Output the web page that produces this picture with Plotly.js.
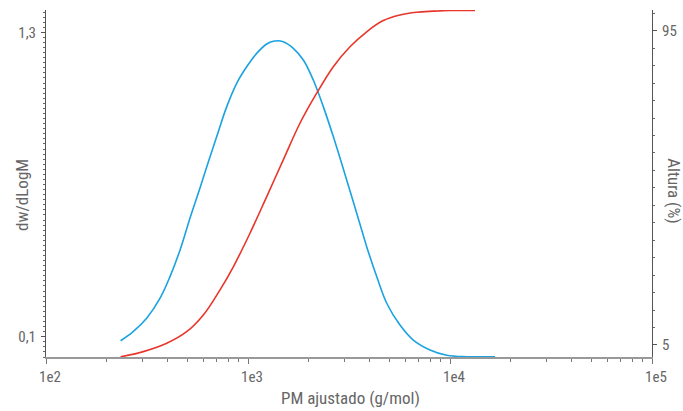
<!DOCTYPE html>
<html><head><meta charset="utf-8">
<script src="https://cdn.plot.ly/plotly-3.0.1.min.js"></script>
<style>html,body{margin:0;padding:0;background:#fff}#chart{width:683px;height:411px}</style>
</head><body><div id="chart"></div>
<script>
// Blue: dw/dLogM vs adjusted molar mass
const blueM = [234,270,315,367,411,461,516,578,625,700,785,879,985,1104,1238,1334,1495,1676,1879,2105,2359,2644,3080,3453,3869,4337,4861,5655,6580,7962,9632,12095,16705];
const blueW = [0.084,0.120,0.173,0.252,0.337,0.442,0.567,0.685,0.770,0.889,1.007,1.099,1.164,1.217,1.254,1.265,1.263,1.237,1.191,1.112,1.007,0.889,0.718,0.587,0.455,0.337,0.232,0.146,0.087,0.048,0.027,0.021,0.021];
// Red: cumulative height (%)
const redM = [234,303,396,497,601,727,846,1023,1238,1495,1808,2188,2644,3199,3869,4675,5655,6842,8265,10000,13300];
const redH = [1.6,3.1,5.5,8.8,13.6,20.8,27.4,37.0,47.5,58.0,68.5,77.1,84.7,90.4,94.7,97.9,99.5,100.3,100.6,100.8,100.8];
// Tick labels
const xTickVals = [100,1000,10000,100000];
const xTickText = ['1e2','1e3','1e4','1e5'];
const yTickVals = [0.1,1.3];
const y2TickVals = [5,95];

const font = "'Liberation Sans Narrow','Arial Narrow','Roboto Condensed','Roboto',sans-serif";
const grey = '#666';

const traces = [
  {x: blueM, y: blueW, type:'scatter', mode:'lines', line:{color:'#1aa3e0', width:1.6, shape:'spline', smoothing:1}, yaxis:'y', hoverinfo:'skip'},
  {x: redM, y: redH, type:'scatter', mode:'lines', line:{color:'#e8362a', width:1.6, shape:'spline', smoothing:1}, yaxis:'y2', hoverinfo:'skip'}
];

const layout = {
  width:683, height:411,
  margin:{l:46, r:31, t:10, b:54},
  paper_bgcolor:'#fff', plot_bgcolor:'#fff',
  showlegend:false,
  separators:',.',
  font:{family:font, size:15, color:grey},
  xaxis:{type:'log', range:[2,5], tickmode:'array', tickvals:xTickVals, ticktext:xTickText,
    showgrid:false, zeroline:false, showline:true, linecolor:'#999', linewidth:2,
    ticks:'outside', ticklen:5, tickcolor:'#777', tickwidth:1, ticklabelshift:4,
    tickfont:{family:font, size:15, color:grey},
    minor:{ticks:'outside', ticklen:3, tickcolor:'#777', dtick:'D1', showgrid:false}},
  yaxis:{range:[0.02,1.388], tickmode:'array', tickvals:yTickVals,
    showgrid:false, zeroline:false, showline:true, linecolor:'#555', linewidth:1,
    ticks:'outside', ticklen:4, tickcolor:'#555', ticklabelstandoff:2,
    tickfont:{family:font, size:15, color:grey},
    minor:{ticks:'outside', ticklen:2, tickcolor:'#666', tick0:0, dtick:0.02, showgrid:false}},
  yaxis2:{overlaying:'y', side:'right', range:[1.56,100.93], tickmode:'array', tickvals:y2TickVals,
    showgrid:false, zeroline:false, showline:true, linecolor:'#555', linewidth:1,
    ticks:'outside', ticklen:4, tickcolor:'#555', ticklabelstandoff:2,
    tickfont:{family:font, size:15, color:grey},
    minor:{ticks:'outside', ticklen:2, tickcolor:'#666', tick0:0, dtick:5, showgrid:false}},
  annotations:[
    {text:'PM ajustado (g/mol)', xref:'paper', yref:'paper', x:0.502, y:-0.118, xanchor:'center', yanchor:'middle', showarrow:false, font:{family:font, size:17, color:grey}},
    {text:'dw/dLogM', xref:'paper', yref:'paper', x:-0.0396, y:0.467, xanchor:'center', yanchor:'middle', textangle:-90, showarrow:false, font:{family:font, size:17, color:grey}},
    {text:'Altura (%)', xref:'paper', yref:'paper', x:1.035, y:0.48, xanchor:'center', yanchor:'middle', textangle:90, showarrow:false, font:{family:font, size:17, color:grey}}
  ]
};

Plotly.newPlot('chart', traces, layout, {staticPlot:true, displayModeBar:false});
</script></body></html>
